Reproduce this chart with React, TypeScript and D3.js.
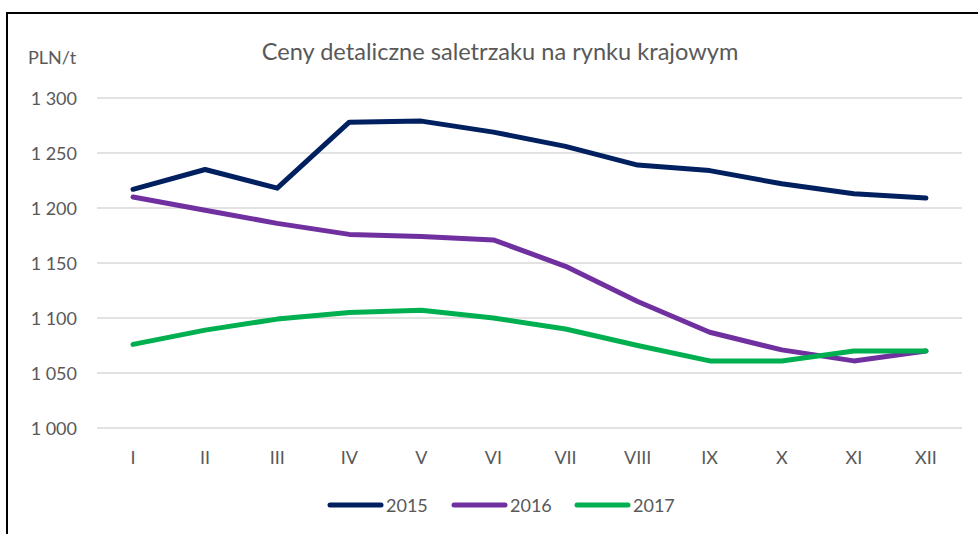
import React from "react";
import * as d3 from "d3";

const months = ["I", "II", "III", "IV", "V", "VI", "VII", "VIII", "IX", "X", "XI", "XII"];
const series2015 = [1217, 1235, 1218, 1278, 1279, 1269, 1256, 1239, 1234, 1222, 1213, 1209];
const series2016 = [1210, 1198, 1186, 1176, 1174, 1171, 1147, 1115, 1087, 1071, 1061, 1070];
const series2017 = [1076, 1089, 1099, 1105, 1107, 1100, 1090, 1075, 1061, 1061, 1070, 1070];
const yTicks = [1000, 1050, 1100, 1150, 1200, 1250, 1300];
const seriesNames = ["2015", "2016", "2017"];
const seriesColors = ["#002060", "#7030A0", "#00B050"];

const W = 978;
const H = 534;
const FONT = "Lato, 'Open Sans', sans-serif";
const TXT = "#595959";

function fmt(v: number): string {
  const s = String(v);
  return s.length > 3 ? s.slice(0, s.length - 3) + " " + s.slice(-3) : s;
}

export default function App() {
  const x = d3.scalePoint<string>().domain(months).range([97, 962]).padding(0.5);
  const y = d3.scaleLinear().domain([1000, 1300]).range([428, 98]);
  const allSeries = [series2015, series2016, series2017];
  const line = d3
    .line<number>()
    .x((_, i) => x(months[i]) as number)
    .y((d) => y(d));

  const legendX = [328, 452, 575];

  return (
    <div style={{ position: "absolute", left: 0, top: 0 }}>
      <svg width={W} height={H} style={{ display: "block", background: "#fff" }}>
        <rect x={0} y={0} width={W} height={H} fill="#fff" />
        {/* border */}
        <path d={`M7,${H + 5} L7,13 L${W + 5},13`} fill="none" stroke="#000" strokeWidth={2} />
        {/* title */}
        <text x={500} y={51} textAnchor="middle" dominantBaseline="central" fontFamily={FONT} fontSize={23.6} fill={TXT}>
          Ceny detaliczne saletrzaku na rynku krajowym
        </text>
        <text x={28} y={57} dominantBaseline="central" fontFamily={FONT} fontSize={18} fill={TXT}>
          PLN/t
        </text>
        {/* grid */}
        {yTicks.map((t) => (
          <g key={t}>
            <line x1={97} x2={962} y1={y(t)} y2={y(t)} stroke="#D9D9D9" strokeWidth={1.5} />
            <text x={77} y={y(t)} textAnchor="end" dominantBaseline="central" fontFamily={FONT} fontSize={18} fill={TXT}>
              {fmt(t)}
            </text>
          </g>
        ))}
        {/* x labels */}
        {months.map((m) => (
          <text key={m} x={x(m) as number} y={457} textAnchor="middle" dominantBaseline="central" fontFamily={FONT} fontSize={18} fill={TXT}>
            {m}
          </text>
        ))}
        {/* lines */}
        {allSeries.map((s, i) => (
          <path
            key={seriesNames[i]}
            d={line(s) || ""}
            fill="none"
            stroke={seriesColors[i]}
            strokeWidth={5}
            strokeLinejoin="round"
            strokeLinecap="round"
          />
        ))}
        {/* legend */}
        {seriesNames.map((n, i) => (
          <g key={n}>
            <line x1={legendX[i] + 2} x2={legendX[i] + 53} y1={505} y2={505} stroke={seriesColors[i]} strokeWidth={5} strokeLinecap="round" />
            <text x={legendX[i] + 58} y={505} dominantBaseline="central" fontFamily={FONT} fontSize={18} fill={TXT}>
              {n}
            </text>
          </g>
        ))}
      </svg>
    </div>
  );
}
